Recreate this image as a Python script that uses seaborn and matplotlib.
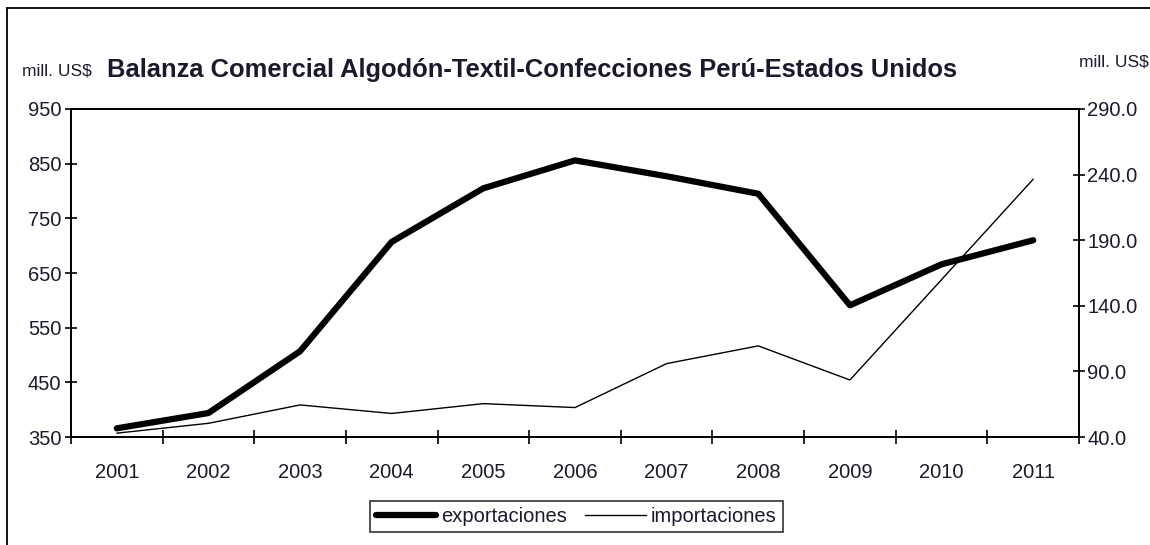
import pandas as pd
import numpy as np
import matplotlib
matplotlib.use("Agg")
import matplotlib.pyplot as plt
import seaborn as sns
from matplotlib.lines import Line2D

sns.set_style("white")
plt.rcParams['font.family'] = ['Liberation Sans', 'DejaVu Sans']

# data (mill. US$)
years = ["2001", "2002", "2003", "2004", "2005", "2006", "2007", "2008", "2009", "2010", "2011"]
exportaciones = [366, 394, 507, 707, 805, 856, 827, 795, 591, 666, 710]
importaciones = [43, 50.5, 64.5, 58, 65.5, 62.5, 96, 109.5, 83.5, 160, 236.5]

df = pd.DataFrame({"pos": np.arange(len(years)),
                   "exportaciones": exportaciones,
                   "importaciones": importaciones})

fs = 14.5
txtcol = "#1a1a2e"

fig = plt.figure(figsize=(11.5, 5.45), dpi=100)
ax = fig.add_axes([0.0617, 0.198, 0.8766, 0.602])
ax2 = ax.twinx()

sns.lineplot(data=df, x="pos", y="exportaciones", ax=ax, color="black", linewidth=4.5)
sns.lineplot(data=df, x="pos", y="importaciones", ax=ax2, color="black", linewidth=1.0)

# left axis
ax.set_ylim(350, 950)
ax.set_yticks(np.arange(350, 951, 100))
ax.set_yticklabels([str(v) for v in range(350, 951, 100)], fontsize=fs, color=txtcol)
# right axis
ax2.set_ylim(40, 290)
ax2.set_yticks(np.arange(40, 291, 50))
ax2.set_yticklabels(["%.1f" % v for v in range(40, 291, 50)], fontsize=fs, color=txtcol)

# x axis: ticks between categories, labels centred
ax.set_xlim(-0.5, len(years) - 0.5)
ax.set_xticks(np.arange(-0.5, len(years), 1.0))
ax.set_xticklabels([])
ax.set_xticks(np.arange(len(years)), minor=True)
ax.set_xticklabels(years, minor=True, fontsize=fs, color=txtcol)
ax.tick_params(axis="x", which="minor", bottom=True, length=0, pad=19)
ax.tick_params(axis="x", which="major", bottom=True, direction="inout", length=10,
               width=1.2, color="black")
ax.tick_params(axis="y", left=True, direction="inout", length=8, width=1.2,
               color="black", pad=3)
ax2.tick_params(axis="y", right=True, direction="inout", length=8, width=1.2,
                color="black", pad=2)

for a in (ax, ax2):
    a.set_xlabel("")
    a.set_ylabel("")
    for s in a.spines.values():
        s.set_color("black")
        s.set_linewidth(1.3)

# titles
fig.text(0.093, 0.872, "Balanza Comercial Algodón-Textil-Confecciones Perú-Estados Unidos",
         fontsize=18.4, fontweight="bold", color=txtcol, va="center", ha="left")
fig.text(0.019, 0.869, "mill. US$", fontsize=12.5, color=txtcol, va="center", ha="left")
fig.text(0.999, 0.886, "mill. US$", fontsize=12.5, color=txtcol, va="center", ha="right")

# legend
handles = [Line2D([0], [0], color="black", linewidth=4.5),
           Line2D([0], [0], color="black", linewidth=1.0)]
leg = fig.legend(handles, ["exportaciones", "importaciones"], loc="center",
                 bbox_to_anchor=(0.501, 0.052), ncol=2, fontsize=fs, frameon=True,
                 fancybox=False, handlelength=3.0, handletextpad=0.25, columnspacing=0.9,
                 borderpad=0.3)
leg.get_frame().set_edgecolor("black")
leg.get_frame().set_linewidth(1.2)
for t in leg.get_texts():
    t.set_color(txtcol)

# outer chart frame (only left and top edges visible in the crop)
fig.add_artist(Line2D([0.006, 0.006], [0.0, 0.985], color="black", linewidth=1.3,
                      transform=fig.transFigure))
fig.add_artist(Line2D([0.006, 1.0], [0.985, 0.985], color="black", linewidth=1.3,
                      transform=fig.transFigure))

fig.savefig("out.png", dpi=100)
